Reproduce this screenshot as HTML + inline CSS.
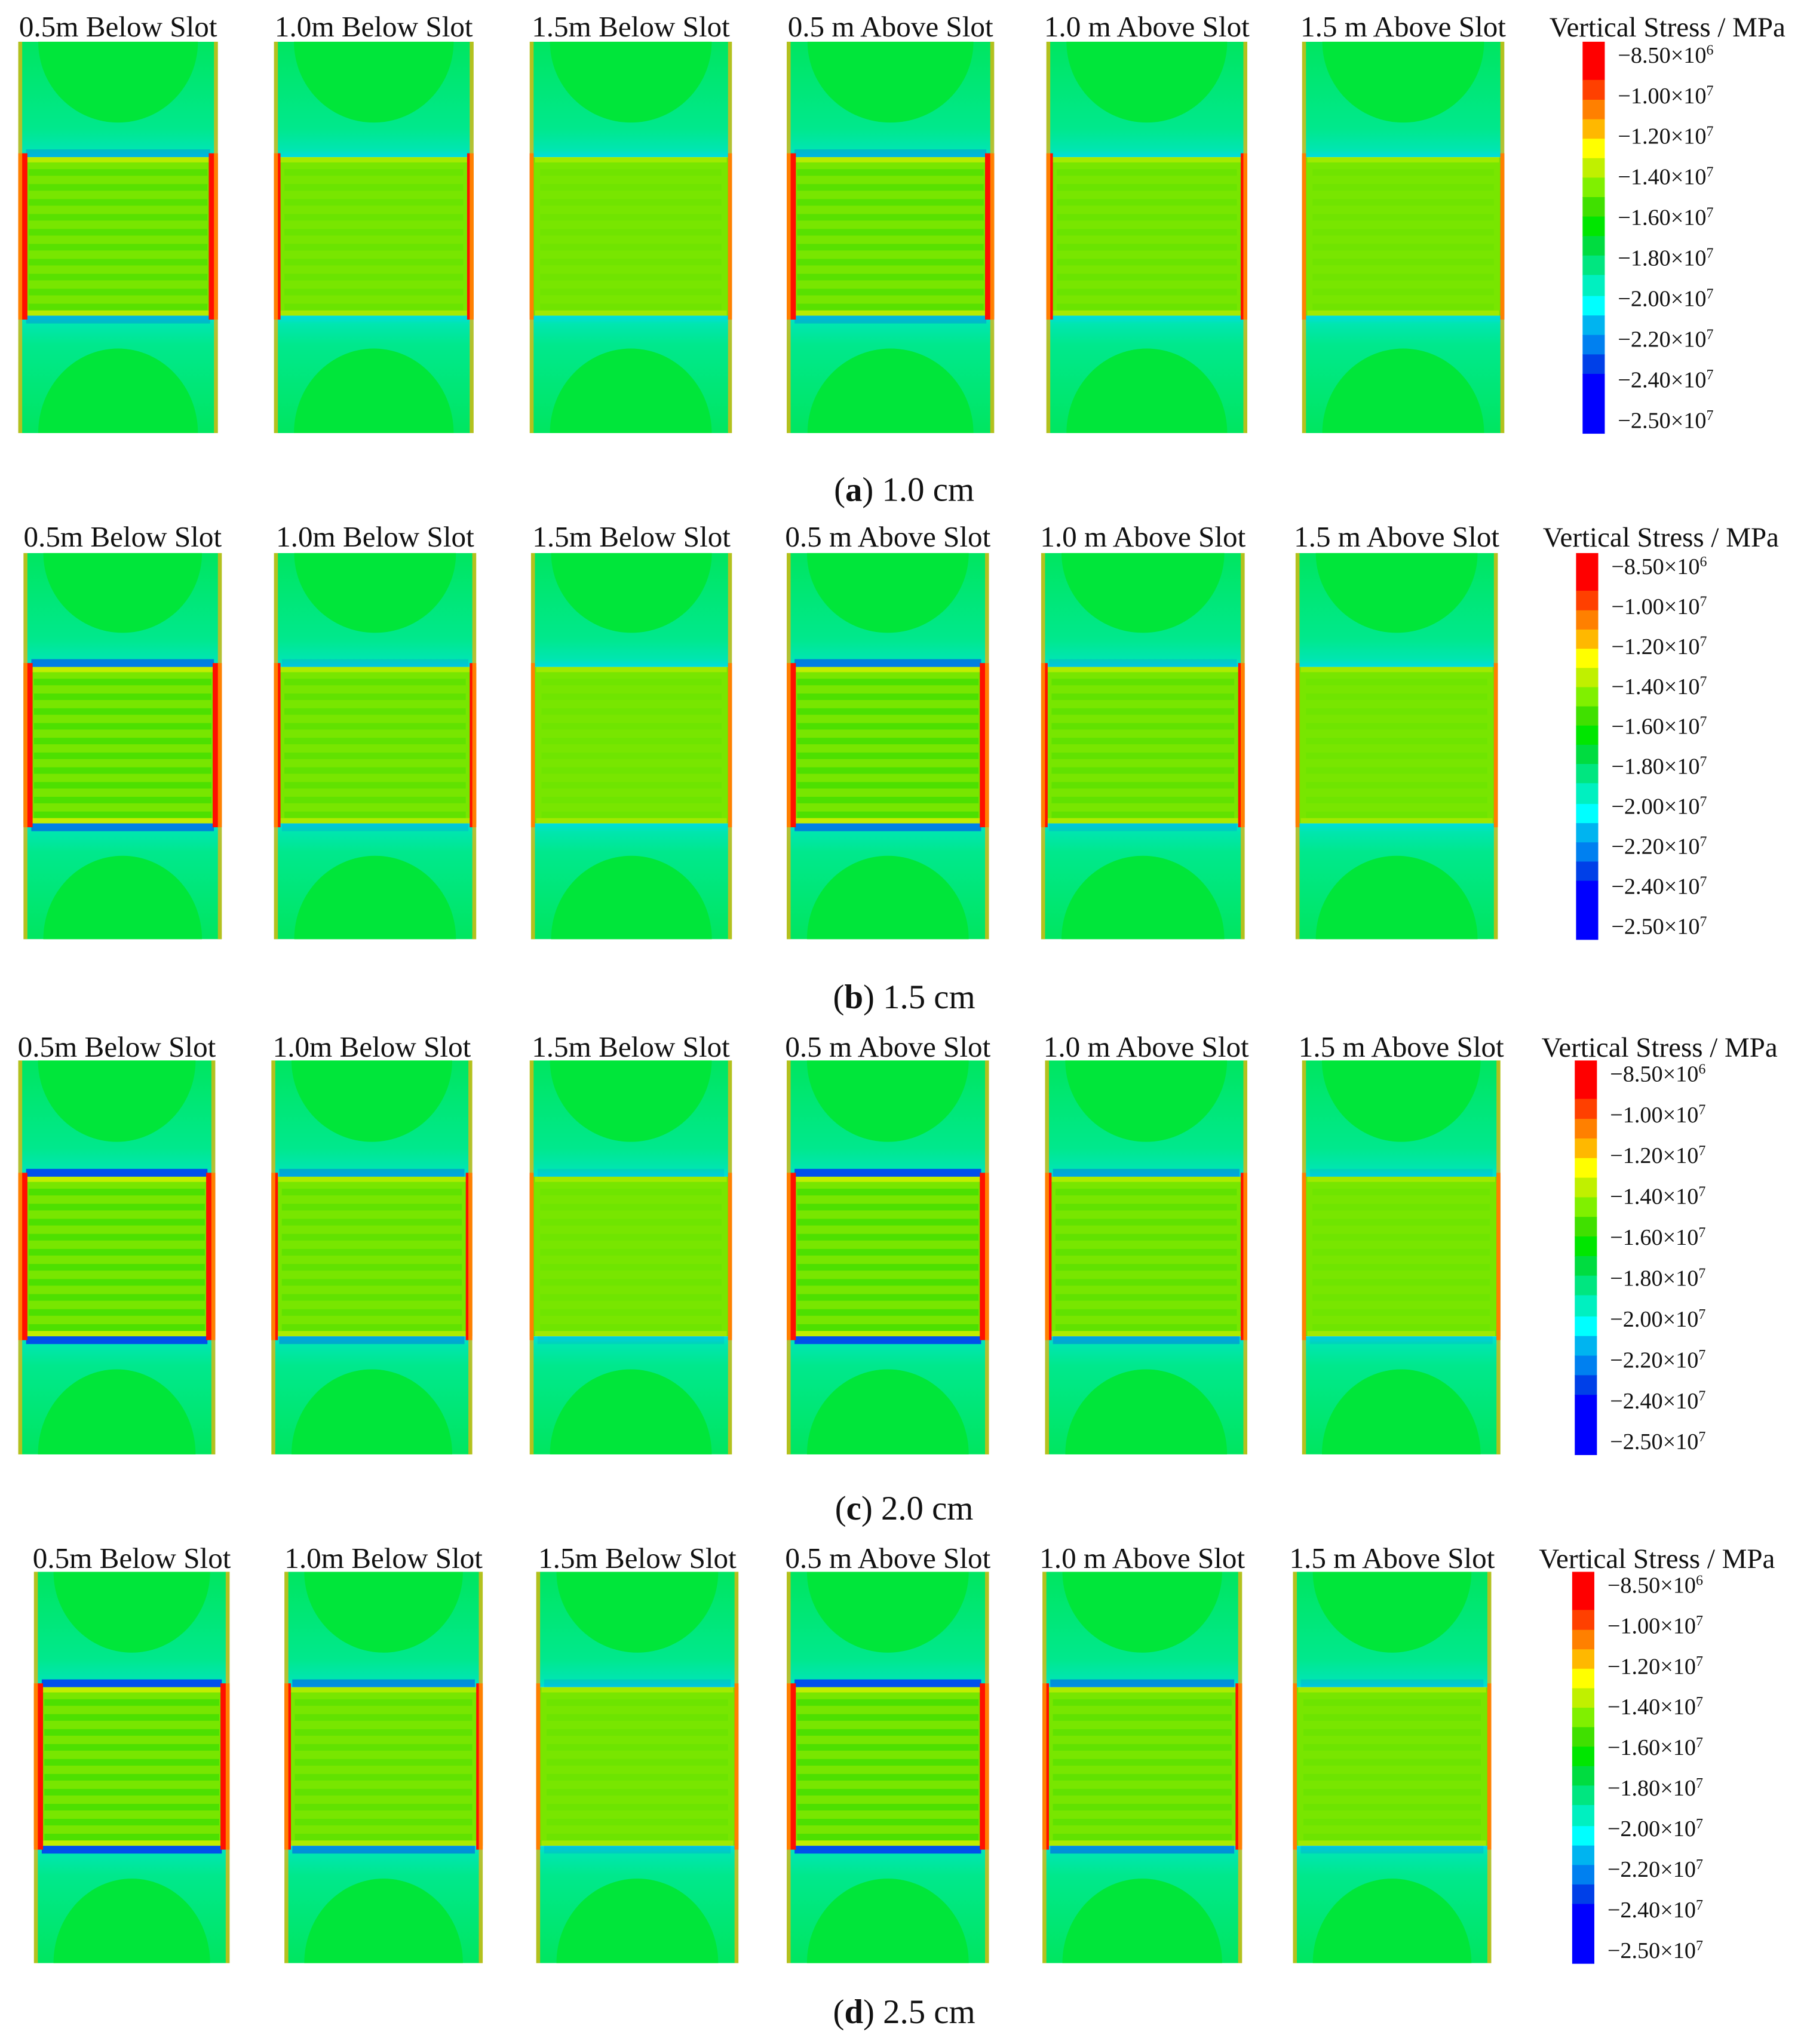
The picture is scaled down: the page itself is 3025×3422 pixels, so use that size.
<!DOCTYPE html>
<html><head><meta charset="utf-8">
<style>
html,body{margin:0;padding:0;background:#fff;}
svg{display:block;}
text{font-family:"Liberation Serif",serif;fill:#111;}
</style></head>
<body>
<svg id="fig" width="3025" height="3422" viewBox="0 0 1385 1567" preserveAspectRatio="none" xmlns="http://www.w3.org/2000/svg">
<defs id="defs">
 <linearGradient id="topG" x1="0" y1="0" x2="0" y2="1">
  <stop offset="0" stop-color="#00e660"/><stop offset="0.75" stop-color="#00e88c"/><stop offset="0.93" stop-color="#00e6b0"/><stop offset="1" stop-color="#00dce0"/>
 </linearGradient>
 <linearGradient id="botG" x1="0" y1="1" x2="0" y2="0">
  <stop offset="0" stop-color="#00e660"/><stop offset="0.75" stop-color="#00e88c"/><stop offset="0.93" stop-color="#00e6b0"/><stop offset="1" stop-color="#00dce0"/>
 </linearGradient>
</defs>
<g id="root"></g>
</svg>
<script>
// ---- data ----
const rowCaptions = ["1.0 cm", "1.5 cm", "2.0 cm", "2.5 cm"];
const rowLetters = ["a", "b", "c", "d"];
const panelTitlesA = ["0.5m Below Slot", "1.0m Below Slot", "1.5m Below Slot", "0.5 m Above Slot", "1.0 m Above Slot", "1.5 m Above Slot"];
const tickLabels = ["\u22128.50\u00d710", "\u22121.00\u00d710", "\u22121.20\u00d710", "\u22121.40\u00d710", "\u22121.60\u00d710", "\u22121.80\u00d710", "\u22122.00\u00d710", "\u22122.20\u00d710", "\u22122.40\u00d710", "\u22122.50\u00d710"];
const tickExponents = ["6", "7", "7", "7", "7", "7", "7", "7", "7", "7"];
const cbarColors = ["#ff0000", "#ff4000", "#ff8000", "#ffb800", "#ffff00", "#c0f000", "#80f000", "#40e000", "#00e600", "#00dc40", "#00e680", "#00f0c0", "#00ffff", "#00b4f0", "#0080f0", "#0040e8", "#0000ff"];
const cbarFractions = [0.098, 0.051, 0.05, 0.05, 0.05, 0.05, 0.05, 0.05, 0.05, 0.05, 0.05, 0.054, 0.05, 0.05, 0.05, 0.05, 0.152];
const stripeStrength = [[0.45,0.2,0.1,0.45,0.2,0.1],[0.6,0.3,0.12,0.6,0.3,0.12],[0.6,0.3,0.12,0.6,0.3,0.12],[0.6,0.3,0.15,0.6,0.3,0.15]];
const blueEdge = [[0.25,0,0,0.25,0,0],[0.6,0.15,0,0.6,0.15,0],[0.9,0.35,0.1,0.9,0.35,0.1],[0.9,0.5,0.15,0.9,0.5,0.15]];

// ---- layout (figure units) ----
const rowTitleY = [28, 419, 810, 1202];
const rowPanelTop = [32, 424, 813, 1205];
const rowPanelBot = [332, 720, 1115, 1505];
const rowCaptionY = [384, 773, 1165, 1551];
const rowPanelX = [
 [[14,167],[210,363],[406,561],[603,762],[802,956],[998,1153]],
 [[18,170],[210,365],[407,561],[603,758],[798,954],[993,1148]],
 [[14,165],[208,362],[406,561],[603,758],[801,956],[998,1150]],
 [[26,176],[218,370],[411,566],[603,758],[799,952],[991,1143]]];
const rowCbarX = [1213, 1208, 1207, 1205];
const NS = "http://www.w3.org/2000/svg";
const root = document.getElementById("root");
const defs = document.getElementById("defs");
function mk(tag, attrs, parent){const e=document.createElementNS(NS,tag);for(const k in attrs)e.setAttribute(k,attrs[k]);(parent||root).appendChild(e);return e;}
let clipN = 0;
function clipRect(x,y,w,h){const id="c"+(clipN++);const cp=mk("clipPath",{id:id},defs);mk("rect",{x:x,y:y,width:w,height:h},cp);return "url(#"+id+")";}

rowCaptions.forEach((cap, r) => {
  const g = mk("g", {});
  
  
  const top = rowPanelTop[r], bot = rowPanelBot[r], H = bot - top;
  const bandT = top + H*0.295, bandB = top + H*0.70;
  panelTitlesA.forEach((title, p) => {
    const [x0, x1] = rowPanelX[r][p]; const W = x1 - x0;
    const pg = mk("g", {}, g);
    
    
    const t = mk("text", {x:(x0+x1)/2, y:rowTitleY[r], "font-size":22.5, "text-anchor":"middle"}, pg);
    t.textContent = title;
    
    
    const tg = mk("g", {"clip-path": clipRect(x0, top, W, bandT-top)}, pg);
    mk("rect", {x:x0, y:top, width:W, height:bandT-top, fill:"url(#topG)"}, tg);
    mk("ellipse", {cx:(x0+x1)/2, cy:top, rx:W*0.4, ry:(bandT-top)*0.7, fill:"#00e63a"}, tg);
    const bg = mk("g", {"clip-path": clipRect(x0, bandB, W, bot-bandB)}, pg);
    mk("rect", {x:x0, y:bandB, width:W, height:bot-bandB, fill:"url(#botG)"}, bg);
    mk("ellipse", {cx:(x0+x1)/2, cy:bot, rx:W*0.4, ry:(bot-bandB)*0.72, fill:"#00e63a"}, bg);
    const be = blueEdge[r][p];
    if (be > 0) {
      mk("rect", {x:x0+6, y:bandT-6, width:W-12, height:6, fill:"#0040f0", opacity:be}, pg);
      mk("rect", {x:x0+6, y:bandB, width:W-12, height:6, fill:"#0040f0", opacity:be}, pg);
    }
    mk("rect", {x:x0, y:bandT, width:W, height:bandB-bandT, fill:"#78e600"}, pg);
    const s = stripeStrength[r][p];
    const n = 10;
    for (let i = 0; i < n; i++) {
      const yy = bandT + (bandB-bandT)*(i+0.8)/(n+0.6);
      mk("rect", {x:x0+8, y:yy, width:W-16, height:(bandB-bandT)/(n*2.4), fill:"#30dc00", opacity:s}, pg);
    }
    mk("rect", {x:x0+4, y:bandT, width:W-8, height:4, fill:"#e8f000", opacity:0.3+0.6*s}, pg);
    mk("rect", {x:x0+4, y:bandB-4, width:W-8, height:4, fill:"#e8f000", opacity:0.3+0.6*s}, pg);
    const sw = p%3===0 ? 7 : (p%3===1 ? 5 : 3);
    mk("rect", {x:x0, y:bandT-3, width:sw, height:bandB-bandT+6, fill:"#ff1000"}, pg);
    mk("rect", {x:x1-sw, y:bandT-3, width:sw, height:bandB-bandT+6, fill:"#ff1000"}, pg);
    mk("rect", {x:x0, y:top, width:3, height:H, fill:"#ffb000", opacity:0.7}, pg);
    mk("rect", {x:x1-3, y:top, width:3, height:H, fill:"#ffb000", opacity:0.7}, pg);
  });
  const cx = rowCbarX[r], cw = 17;
  const cg = mk("g", {}, g);
  
  
  const ct = mk("text", {x:cx+65, y:rowTitleY[r], "font-size":21.5, "text-anchor":"middle"}, cg);
  ct.textContent = "Vertical Stress / MPa";
  
  
  let acc = 0;
  const tot = cbarFractions.reduce((a,b)=>a+b,0);
  cbarColors.forEach((c, i) => {
    const y = top + H*acc/tot, h = H*cbarFractions[i]/tot;
    const seg = mk("rect", {x:cx, y:y, width:cw, height:h+0.5, fill:c}, cg);
    
    
    acc += cbarFractions[i];
  });
  tickLabels.forEach((lab, i) => {
    const y = top + 11 + (H-20)*i/(tickLabels.length-1) + 5;
    const tx = mk("text", {x:cx+27, y:y, "font-size":17.5}, cg);
    tx.textContent = lab;
    const sup = document.createElementNS(NS, "tspan");
    sup.setAttribute("dy", "-6"); sup.setAttribute("font-size", "11");
    sup.textContent = tickExponents[i];
    tx.appendChild(sup);
    
    
  });
  const capT = mk("text", {x:693, y:rowCaptionY[r], "font-size":26, "text-anchor":"middle"}, g);
  capT.innerHTML = '(<tspan font-weight="bold">' + rowLetters[r] + '</tspan>) ' + cap;
  
  
});
</script>
</body></html>
